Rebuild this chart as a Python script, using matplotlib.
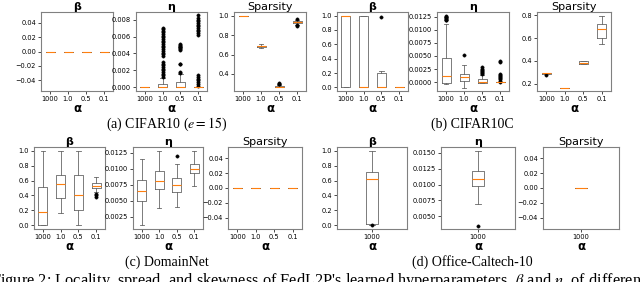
import matplotlib
matplotlib.use("Agg")
import matplotlib.pyplot as plt
from matplotlib.ticker import MultipleLocator

plt.rcParams['mathtext.fontset'] = 'stix'

alphas = ['1000', '1.0', '0.5', '0.1']

# five-number summaries per alpha: (whislo, q1, med, q3, whishi)
cifar10_beta = [(0, 0, 0, 0, 0)] * 4
cifar10_beta_fliers = [[], [], [], []]

cifar10_eta = [(0, 0, 0, 0, 0),
               (0, 0, 0.00002, 0.0004, 0.0011),
               (0, 0, 0.00002, 0.0006, 0.0016),
               (0, 0, 0, 0.00002, 0.00002)]
cifar10_eta_fliers = [
    [],
    [0.0012, 0.0014, 0.0016, 0.0018, 0.0020, 0.0022, 0.0024, 0.0026, 0.0028, 0.0030,
     0.0037, 0.0039, 0.0041, 0.0043, 0.0045, 0.0047, 0.0049, 0.0051, 0.0053, 0.0055,
     0.0057, 0.0059, 0.0061, 0.0063, 0.0065, 0.0067, 0.0069, 0.0070],
    [0.0017, 0.0018, 0.0027, 0.0028, 0.0044, 0.0045, 0.0046, 0.0047, 0.0048, 0.0049,
     0.0050, 0.0051],
    [0.0002, 0.0004, 0.0006, 0.0008, 0.0010, 0.0012, 0.0014,
     0.0062, 0.0064, 0.0066, 0.0068, 0.0070, 0.0072, 0.0074, 0.0076, 0.0078, 0.0080,
     0.0082, 0.0085],
]

cifar10_sp = [(0.995, 0.997, 0.999, 1.0, 1.0),
              (0.665, 0.678, 0.685, 0.692, 0.705),
              (0.262, 0.266, 0.27, 0.275, 0.285),
              (0.905, 0.92, 0.932, 0.94, 0.955)]
cifar10_sp_fliers = [[], [], [0.295, 0.30, 0.305], [0.895, 0.90, 0.96]]

cifar10c_beta = [(0, 0, 1.0, 1.0, 1.0),
                 (0, 0, 0, 1.0, 1.0),
                 (0, 0, 0, 0.2, 0.23),
                 (0, 0, 0, 0, 0)]
cifar10c_beta_fliers = [[], [], [0.98], []]

cifar10c_eta = [(-0.0004, -0.0001, 0.0011, 0.0047, 0.0112),
                (-0.0011, 0.0002, 0.0009, 0.0016, 0.0032),
                (-0.0002, -0.0001, 0.0, 0.0006, 0.0014),
                (0, 0, 0, 0, 0)]
cifar10c_eta_fliers = [
    [0.0118, 0.0119, 0.0121, 0.0122, 0.0124, 0.0125, 0.0126],
    [0.0051],
    [0.0016, 0.0018, 0.0020, 0.0022, 0.0024, 0.0026, 0.0028],
    [0.0001, 0.0003, 0.0005, 0.0007, 0.0009, 0.0011, 0.0013, 0.0015, 0.0039, 0.0041],
]

cifar10c_sp = [(0.285, 0.287, 0.29, 0.29, 0.29),
               (0.162, 0.163, 0.164, 0.165, 0.165),
               (0.375, 0.376, 0.382, 0.40, 0.40),
               (0.55, 0.60, 0.68, 0.725, 0.79)]
cifar10c_sp_fliers = [[0.275], [], [], []]

domainnet_beta = [(0, 0, 0.18, 0.51, 1.0),
                  (0.17, 0.36, 0.55, 0.67, 1.0),
                  (0, 0.21, 0.40, 0.68, 1.0),
                  (0.45, 0.50, 0.53, 0.57, 0.65)]
domainnet_beta_fliers = [[], [], [], [0.38, 0.40, 0.42]]

domainnet_eta = [(0.0013, 0.0050, 0.0066, 0.0083, 0.0116),
                 (0.0039, 0.0069, 0.0081, 0.0096, 0.0127),
                 (0.0041, 0.0064, 0.0075, 0.0085, 0.0108),
                 (0.0073, 0.0094, 0.0099, 0.0108, 0.0128)]
domainnet_eta_fliers = [[], [], [0.0120], []]

domainnet_sp = [(0, 0, 0, 0, 0)] * 4
domainnet_sp_fliers = [[], [], [], []]

office_beta = [(0.0, 0.015, 0.625, 0.72, 1.0)]
office_beta_fliers = [[0.0]]
office_eta = [(0.0070, 0.0097, 0.0108, 0.0121, 0.0152)]
office_eta_fliers = [[0.0035]]
office_sp = [(0, 0, 0, 0, 0)]
office_sp_fliers = [[]]

captions = ['(a) CIFAR10 ($e=15$)', '(b) CIFAR10C', '(c) DomainNet', '(d) Office-Caltech-10']


def make_stats(summary, fliers, labels):
    stats = []
    for s, f, lab in zip(summary, fliers, labels):
        stats.append(dict(whislo=s[0], q1=s[1], med=s[2], q3=s[3], whishi=s[4],
                          fliers=f, label=lab))
    return stats


W, H = 640, 282
fig = plt.figure(figsize=(6.4, 2.82), dpi=100)


def panel(x0, x1, y0, y1, summary, fliers, labels, title, ylim, step, width=0.5):
    ax = fig.add_axes([x0 / W, 1 - y1 / H, (x1 - x0) / W, (y1 - y0) / H])
    line = dict(color='0.4', linewidth=0.6)
    ax.bxp(make_stats(summary, fliers, labels), widths=width,
           boxprops=line, whiskerprops=line, capprops=line,
           medianprops=dict(color='#ff7f0e', linewidth=0.8),
           flierprops=dict(marker='o', markersize=2.4, markerfacecolor='k',
                           markeredgecolor='k', markeredgewidth=0.3))
    ax.set_ylim(*ylim)
    ax.yaxis.set_major_locator(MultipleLocator(step))
    ax.tick_params(labelsize=4.8, length=2, width=0.5, pad=1.5)
    for sp in ax.spines.values():
        sp.set_color('0.5')
        sp.set_linewidth(0.8)
    if title == 'Sparsity':
        ax.set_title(title, fontsize=8, pad=0.3)
    else:
        ax.set_title(title, fontsize=8, fontweight='bold', pad=0.3)
    ax.set_xlabel('α', fontsize=8.5, fontweight='bold', labelpad=0)
    return ax


# row 1
panel(41, 113, 12, 91, cifar10_beta, cifar10_beta_fliers, alphas, 'β', (-0.055, 0.055), 0.02)
panel(136, 207, 12, 91, cifar10_eta, cifar10_eta_fliers, alphas, 'η', (-0.00045, 0.0089), 0.002)
panel(234, 306, 12, 91, cifar10_sp, cifar10_sp_fliers, alphas, 'Sparsity', (0.225, 1.037), 0.2)
panel(337, 408, 12, 91, cifar10c_beta, cifar10c_beta_fliers, alphas, 'β', (-0.05, 1.05), 0.2)
panel(437, 509, 12, 91, cifar10c_eta, cifar10c_eta_fliers, alphas, 'η', (-0.0017, 0.0134), 0.0025)
panel(537, 611, 12, 91, cifar10c_sp, cifar10c_sp_fliers, alphas, 'Sparsity', (0.136, 0.829), 0.2)

# row 2
panel(34, 105, 147, 229, domainnet_beta, domainnet_beta_fliers, alphas, 'β', (-0.05, 1.05), 0.2)
panel(133, 203, 147, 229, domainnet_eta, domainnet_eta_fliers, alphas, 'η', (0.0006, 0.0134), 0.0025)
panel(228, 302, 147, 229, domainnet_sp, domainnet_sp_fliers, alphas, 'Sparsity', (-0.055, 0.055), 0.02)
panel(337, 407, 147, 229, office_beta, office_beta_fliers, ['1000'], 'β', (-0.05, 1.05), 0.2, width=0.16)
panel(441, 515, 147, 229, office_eta, office_eta_fliers, ['1000'], 'η', (0.003, 0.0159), 0.0025, width=0.16)
panel(543, 619, 147, 229, office_sp, office_sp_fliers, ['1000'], 'Sparsity', (-0.055, 0.055), 0.02, width=0.16)

cap_font = dict(family='Liberation Serif', fontsize=10, ha='center', va='center')
fig.text(167 / W, 1 - 124 / H, captions[0], **cap_font)
fig.text(472 / W, 1 - 124 / H, captions[1], **cap_font)
fig.text(167 / W, 1 - 262 / H, captions[2], **cap_font)
fig.text(472 / W, 1 - 262 / H, captions[3], **cap_font)

fig.text(-9 / W, 1 - 271 / H,
         "Figure 2: Locality, spread, and skewness of FedL2P's learned hyperparameters, "
         r"$\beta$ and $\eta$, of different",
         family='Liberation Serif', fontsize=11.8, ha='left', va='top')

fig.savefig('out.png', dpi=100)
